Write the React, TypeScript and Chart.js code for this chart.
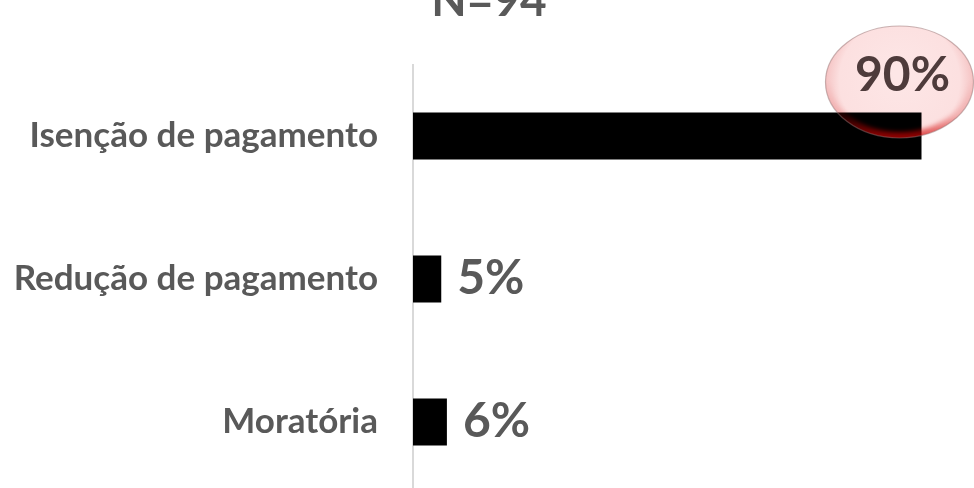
import React, { useEffect, useRef } from "react";
import { Chart, registerables } from "chart.js";

Chart.register(...registerables);

const titleText = "N=94";
const categories = ["Isenção de pagamento", "Redução de pagamento", "Moratória"];
const values = [90, 5, 6];
const valueLabels = ["90%", "5%", "6%"];

const FONT = "Lato, 'Noto Sans', sans-serif";
const GRAY = "#595959";

const labelPlugin = {
  id: "valueLabels",
  afterDatasetsDraw(chart: any) {
    const ctx = chart.ctx as CanvasRenderingContext2D;
    const meta = chart.getDatasetMeta(0);
    meta.data.forEach((bar: any, i: number) => {
      ctx.save();
      if (i === 0) {
        const cx = bar.x - 22;
        const cy = bar.y - 54;
        const rx = 74;
        const ry = 56;
        ctx.beginPath();
        ctx.ellipse(cx, cy, rx, ry, 0, 0, Math.PI * 2);
        const g = ctx.createRadialGradient(cx, cy - 8, 5, cx, cy, rx);
        g.addColorStop(0, "rgba(253,230,230,1)");
        g.addColorStop(0.8, "rgba(252,224,224,1)");
        g.addColorStop(1, "rgba(245,195,195,1)");
        ctx.globalCompositeOperation = "multiply";
        ctx.fillStyle = g;
        ctx.fill();
        ctx.globalCompositeOperation = "source-over";
        ctx.save();
        ctx.beginPath();
        ctx.ellipse(cx, cy, rx, ry, 0, 0, Math.PI * 2);
        ctx.clip();
        const lg = ctx.createLinearGradient(0, cy, 0, cy + ry);
        lg.addColorStop(0, "rgba(210,0,0,0)");
        lg.addColorStop(0.6, "rgba(210,0,0,0.15)");
        lg.addColorStop(1, "rgba(210,0,0,0.7)");
        ctx.strokeStyle = lg;
        ctx.lineWidth = 12;
        ctx.filter = "blur(2px)";
        ctx.beginPath();
        ctx.ellipse(cx, cy, rx, ry, 0, 0, Math.PI * 2);
        ctx.stroke();
        ctx.filter = "none";
        ctx.restore();
        ctx.beginPath();
        ctx.ellipse(cx, cy, rx, ry, 0, 0, Math.PI * 2);
        ctx.strokeStyle = "rgba(150,110,110,0.5)";
        ctx.lineWidth = 1.2;
        ctx.stroke();
        ctx.font = `bold 48px ${FONT}`;
        ctx.fillStyle = "#4e3b3b";
        ctx.textAlign = "center";
        ctx.textBaseline = "middle";
        ctx.fillText(valueLabels[i], bar.x - 19, bar.y - 60);
      } else {
        ctx.font = `bold 48px ${FONT}`;
        ctx.fillStyle = GRAY;
        ctx.textAlign = "left";
        ctx.textBaseline = "middle";
        ctx.fillText(valueLabels[i], bar.x + 16, bar.y);
      }
      ctx.restore();
    });
  },
};

export default function App() {
  const ref = useRef<HTMLCanvasElement | null>(null);
  useEffect(() => {
    if (!ref.current) return;
    const chart = new Chart(ref.current, {
      type: "bar",
      data: {
        labels: categories,
        datasets: [
          {
            data: values,
            backgroundColor: "#000000",
            borderWidth: 0,
            barPercentage: 0.33,
            categoryPercentage: 1,
          },
        ],
      },
      options: {
        indexAxis: "y",
        animation: false,
        responsive: false,
        maintainAspectRatio: false,
        devicePixelRatio: 1,
        layout: { padding: { left: 0, right: 0, top: 0, bottom: 6.5 } },
        plugins: {
          legend: { display: false },
          tooltip: { enabled: false },
          title: {
            display: true,
            text: titleText,
            color: GRAY,
            font: { family: FONT, size: 46, weight: "bold", lineHeight: 1.2 },
            padding: { top: 13.4, bottom: 35.9 },
          },
        },
        scales: {
          x: { display: false, min: 0, max: 100 },
          y: {
            afterFit: (scale: any) => {
              scale.width = 413;
              scale.paddingTop = 0;
              scale.paddingBottom = 0;
            },
            grid: { display: false, drawTicks: false },
            border: { display: true, color: "#d9d9d9", width: 2 },
            ticks: {
              color: GRAY,
              padding: 35,
              font: { family: FONT, size: 35, weight: "bold" },
            },
          },
        },
      },
      plugins: [labelPlugin],
    });
    return () => chart.destroy();
  }, []);
  return (
    <div style={{ position: "fixed", left: 0, top: 0, width: 974, height: 488, overflow: "hidden", background: "#fff" }}>
      <div style={{ position: "absolute", left: 0, top: -40, width: 978, height: 540 }}>
        <canvas ref={ref} width={978} height={540} style={{ display: "block", width: 978, height: 540 }} />
      </div>
    </div>
  );
}
